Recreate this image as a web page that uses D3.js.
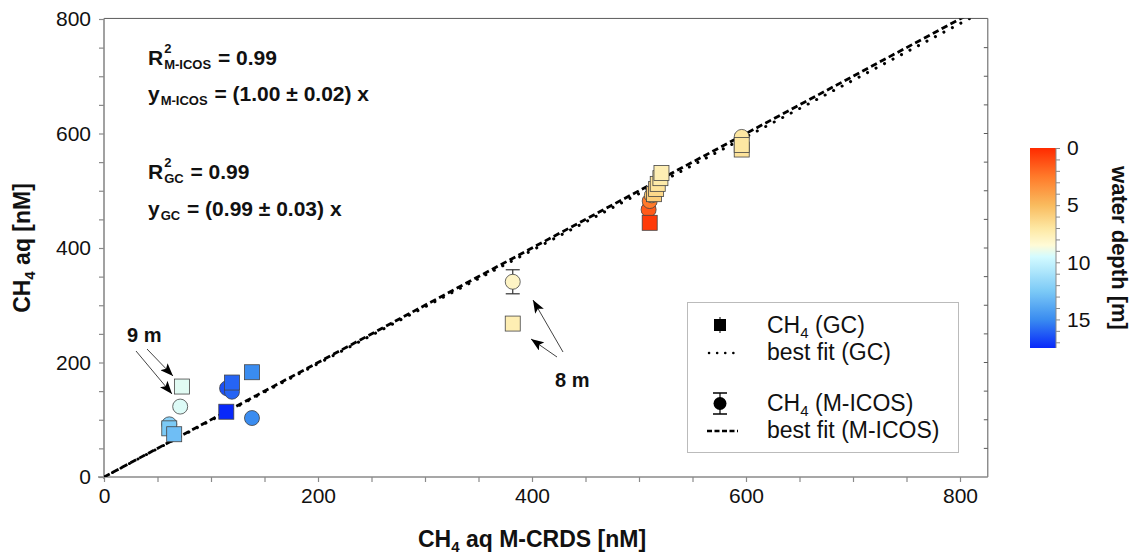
<!DOCTYPE html>
<html>
<head>
<meta charset="utf-8">
<script src="https://cdn.jsdelivr.net/npm/d3@7"></script>
<style>
  html, body { margin: 0; padding: 0; background: #fff; }
  svg { display: block; font-family: "Liberation Sans", Arial, sans-serif; }
</style>
</head>
<body>
<svg id="chart" width="1131" height="554"></svg>
<script>
// ---- data ----
// GC measurements (squares): M-CRDS value, GC value, water depth [m]
const gcX     = [72.8, 61, 65.6, 119.6, 114.3, 138.3, 382, 510, 514, 516, 517.5, 520, 521, 596, 596];
const gcY     = [158, 85, 74.7, 165, 114, 183, 268, 444, 494, 503, 512, 522, 531, 572, 580];
const gcDepth = [9.2, 12.5, 13, 16, 17.5, 15, 7.5, 0.5, 5.8, 6.3, 6.8, 7.2, 7.5, 6.8, 7];

// M-ICOS measurements (circles) with their uncertainty
const icX     = [71.2, 61, 115, 119.6, 138.3, 382, 509, 510, 512, 596];
const icY     = [123, 92, 155, 149, 103, 341, 467, 482, 492, 594];
const icErr   = [5, 5, 5, 5, 5, 21, 5, 5, 5, 5];
const icDepth = [9.3, 12, 16.5, 16, 15, 8, 1.5, 2.5, 5.5, 7];

// linear fits through the origin
const fitSlopeICOS = 1.00;
const fitSlopeGC = 0.99;

// axes
const xTicks = [0, 200, 400, 600, 800];
const yTicks = [0, 200, 400, 600, 800];
const depthTicks = [0, 5, 10, 15];

// colour ramp for water depth
const depthStops = [0, 2.5, 5, 7, 8.5, 9.5, 12.5, 15, 17.5];
const depthColors = ["#ff2a00", "#ff7a2a", "#f9bb5e", "#fde7a2", "#fffbd6", "#d4fbff", "#7ccaf6", "#3a8cf0", "#0828fa"];

// ---- layout ----
const svg = d3.select("#chart");
const x = d3.scaleLinear().domain([0, 800]).range([104, 960]);
const y = d3.scaleLinear().domain([0, 800]).range([477, 19]);
const xMax = 826, yMax = 801;
const color = d3.scaleLinear().domain(depthStops).range(depthColors).clamp(true);

const axisGrey = "#8a8a8a";
const frameGrey = "#5a5a5a";
const ink = "#111";

// arrowhead marker
const defs = svg.append("defs");
defs.append("marker").attr("id", "ah").attr("viewBox", "0 0 13 10")
  .attr("refX", 13).attr("refY", 5).attr("markerWidth", 13).attr("markerHeight", 10)
  .attr("markerUnits", "userSpaceOnUse").attr("orient", "auto")
  .append("path").attr("d", "M0,0 L13,5 L0,10 L3,5 Z").attr("fill", "#000");
defs.append("clipPath").attr("id", "plotClip").append("rect")
  .attr("x", x(0)).attr("y", y(yMax)).attr("width", x(xMax) - x(0)).attr("height", y(0) - y(yMax));

// frame (top and right)
svg.append("line").attr("x1", x(0)).attr("x2", x(xMax)).attr("y1", y(yMax)).attr("y2", y(yMax))
  .attr("stroke", frameGrey).attr("stroke-width", 1);
svg.append("line").attr("x1", x(xMax)).attr("x2", x(xMax)).attr("y1", y(yMax)).attr("y2", y(0))
  .attr("stroke", frameGrey).attr("stroke-width", 1);
svg.append("g").selectAll("line").data(d3.range(50, 800, 50)).join("line")
  .attr("x1", x(xMax)).attr("x2", x(xMax) - 4).attr("y1", d => y(d)).attr("y2", d => y(d))
  .attr("stroke", frameGrey).attr("stroke-width", 1);

// bottom axis
const xAxis = d3.axisBottom(x).tickValues(d3.range(0, 801, 50)).tickSize(5)
  .tickFormat(d => xTicks.includes(d) ? d : "");
const gx = svg.append("g").attr("transform", `translate(0,${y(0)})`).call(xAxis);
gx.select(".domain").remove();
gx.selectAll(".tick line").attr("stroke", axisGrey).attr("stroke-width", 1.2);
gx.selectAll(".tick text").attr("font-size", 21).attr("fill", ink).attr("dy", "0.85em")
  .attr("font-family", "Liberation Sans, Arial, sans-serif");
gx.append("line").attr("x1", x(0) - 6).attr("x2", x(xMax)).attr("y1", 0).attr("y2", 0)
  .attr("stroke", axisGrey).attr("stroke-width", 1.6);

// left axis
const yAxis = d3.axisLeft(y).tickValues(d3.range(0, 801, 50)).tickSize(5)
  .tickFormat(d => yTicks.includes(d) ? d : "");
const gy = svg.append("g").attr("transform", `translate(${x(0)},0)`).call(yAxis);
gy.select(".domain").remove();
gy.selectAll(".tick line").attr("stroke", axisGrey).attr("stroke-width", 1.2);
gy.selectAll(".tick text").attr("font-size", 21).attr("fill", ink).attr("x", -13)
  .attr("font-family", "Liberation Sans, Arial, sans-serif");
gy.append("line").attr("x1", 0).attr("x2", 0).attr("y1", y(yMax)).attr("y2", y(0) + 2)
  .attr("stroke", axisGrey).attr("stroke-width", 1.6);

// axis titles
const xt = svg.append("text").attr("x", x(400)).attr("y", 547).attr("text-anchor", "middle")
  .attr("font-size", 23).attr("font-weight", "bold").attr("fill", ink);
xt.append("tspan").text("CH");
xt.append("tspan").text("4").attr("font-size", 15).attr("dy", 5);
xt.append("tspan").text(" aq M-CRDS [nM]").attr("dy", -5);

const yt = svg.append("text").attr("transform", `translate(30,${y(400)}) rotate(-90)`)
  .attr("text-anchor", "middle").attr("font-size", 23).attr("font-weight", "bold").attr("fill", ink);
yt.append("tspan").text("CH");
yt.append("tspan").text("4").attr("font-size", 15).attr("dy", 5);
yt.append("tspan").text(" aq [nM]").attr("dy", -5);

// fit lines
const plot = svg.append("g").attr("clip-path", "url(#plotClip)");
const line = d3.line().x(d => x(d[0])).y(d => y(d[1]));
plot.append("path").datum([[0, 0], [xMax, fitSlopeGC * xMax]]).attr("d", line)
  .attr("fill", "none").attr("stroke", "#000").attr("stroke-width", 3)
  .attr("stroke-linecap", "round").attr("stroke-dasharray", "0.1 9.5");
plot.append("path").datum([[0, 0], [xMax, fitSlopeICOS * xMax]]).attr("d", line)
  .attr("fill", "none").attr("stroke", "#000").attr("stroke-width", 2.8)
  .attr("stroke-dasharray", "6.5 3.5");

// M-ICOS circles with error bars
const icData = icX.map((v, i) => ({ x: v, y: icY[i], e: icErr[i], d: icDepth[i] }));
const icG = svg.append("g");
const capW = 7;
icData.forEach(p => {
  const g = icG.append("g");
  g.append("line").attr("x1", x(p.x)).attr("x2", x(p.x)).attr("y1", y(p.y - p.e)).attr("y2", y(p.y + p.e))
    .attr("stroke", "#333").attr("stroke-width", 1.2);
  [p.y - p.e, p.y + p.e].forEach(v => g.append("line")
    .attr("x1", x(p.x) - capW).attr("x2", x(p.x) + capW).attr("y1", y(v)).attr("y2", y(v))
    .attr("stroke", "#333").attr("stroke-width", 1.2));
  g.append("circle").attr("cx", x(p.x)).attr("cy", y(p.y)).attr("r", 7.5)
    .attr("fill", color(p.d)).attr("stroke", "#444").attr("stroke-width", 0.8);
});

// GC squares
const sq = 15;
const gcData = gcX.map((v, i) => ({ x: v, y: gcY[i], d: gcDepth[i] }));
svg.append("g").selectAll("rect").data(gcData).join("rect")
  .attr("x", d => x(d.x) - sq / 2).attr("y", d => y(d.y) - sq / 2)
  .attr("width", sq).attr("height", sq)
  .attr("fill", d => color(d.d)).attr("stroke", "#444").attr("stroke-width", 0.8);

// depth annotations with arrows
function arrow(x1, y1, x2, y2) {
  svg.append("line").attr("x1", x1).attr("y1", y1).attr("x2", x2).attr("y2", y2)
    .attr("stroke", "#444").attr("stroke-width", 1).attr("marker-end", "url(#ah)");
}
svg.append("text").attr("x", 127).attr("y", 342).attr("font-size", 20).attr("font-weight", "bold")
  .attr("fill", ink).text("9 m");
arrow(147, 349, 173, 376);
arrow(136, 351, 172, 394);
svg.append("text").attr("x", 555).attr("y", 387).attr("font-size", 20).attr("font-weight", "bold")
  .attr("fill", ink).text("8 m");
arrow(563, 352, 533, 300);
arrow(557, 357, 531, 339);

// regression statistics: one text element per line, with stacked super/subscripts
function stat(x0, yb, main, sup, sub, rest) {
  const t = svg.append("text").attr("x", x0).attr("y", yb).attr("font-weight", "bold")
    .attr("fill", ink).attr("font-size", 21);
  const m = t.append("tspan").text(main);
  const wMain = m.node().getComputedTextLength();
  let wSup = 0;
  if (sup) {
    const s = t.append("tspan").attr("x", x0 + wMain + 1).attr("dy", -12).attr("font-size", 13).text(sup);
    wSup = s.node().getComputedTextLength();
  }
  const b = t.append("tspan").attr("x", x0 + wMain + 1).attr("dy", sup ? 16 : 4)
    .attr("font-size", 13).text(sub);
  const wSub = b.node().getComputedTextLength();
  t.append("tspan").attr("x", x0 + wMain + Math.max(wSup, wSub) + 2).attr("dy", -4).text(" = " + rest);
}
stat(148, 65, "R", "2", "M-ICOS", "0.99");
stat(148, 101, "y", null, "M-ICOS", "(1.00 ± 0.02) x");
stat(148, 179, "R", "2", "GC", "0.99");
stat(148, 216, "y", null, "GC", "(0.99 ± 0.03) x");

// legend
const lg = svg.append("g");
lg.append("rect").attr("x", 687.5).attr("y", 302.5).attr("width", 271).attr("height", 150)
  .attr("fill", "#fff").attr("stroke", "#bbb").attr("stroke-width", 1);
function legText(yb, parts) {
  const t = lg.append("text").attr("x", 767).attr("y", yb).attr("font-size", 23).attr("fill", ink);
  parts.forEach(([s, sub], i) => {
    const ts = t.append("tspan").text(s);
    if (sub) ts.attr("font-size", 15).attr("dy", 5);
    else if (i > 0) ts.attr("dy", -5);
  });
}
lg.append("rect").attr("x", 714).attr("y", 319).attr("width", 12).attr("height", 12).attr("fill", "#000");
lg.append("line").attr("x1", 720).attr("x2", 720).attr("y1", 317).attr("y2", 333).attr("stroke", "#000");
legText(333, [["CH"], ["4", true], [" (GC)"]]);
lg.append("line").attr("x1", 709).attr("x2", 740).attr("y1", 353).attr("y2", 353)
  .attr("stroke", "#000").attr("stroke-width", 2.5).attr("stroke-linecap", "round").attr("stroke-dasharray", "0.1 8");
legText(360, [["best fit (GC)"]]);
lg.append("line").attr("x1", 720).attr("x2", 720).attr("y1", 393).attr("y2", 414).attr("stroke", "#000").attr("stroke-width", 1.2);
lg.append("line").attr("x1", 713).attr("x2", 727).attr("y1", 393).attr("y2", 393).attr("stroke", "#000").attr("stroke-width", 1.5);
lg.append("line").attr("x1", 713).attr("x2", 727).attr("y1", 414).attr("y2", 414).attr("stroke", "#000").attr("stroke-width", 1.5);
lg.append("circle").attr("cx", 720).attr("cy", 403.5).attr("r", 6.5).attr("fill", "#000");
legText(411, [["CH"], ["4", true], [" (M-ICOS)"]]);
lg.append("line").attr("x1", 707).attr("x2", 738).attr("y1", 431).attr("y2", 431)
  .attr("stroke", "#000").attr("stroke-width", 2.5).attr("stroke-dasharray", "5 2.5");
legText(438, [["best fit (M-ICOS)"]]);

// colour bar for water depth
const cbX = 1030, cbW = 26;
const cbY = d3.scaleLinear().domain([0, 17.5]).range([148, 348]);
const grad = defs.append("linearGradient").attr("id", "depthGrad")
  .attr("x1", 0).attr("x2", 0).attr("y1", 0).attr("y2", 1);
d3.range(0, 17.51, 0.5).forEach(v => grad.append("stop")
  .attr("offset", v / 17.5).attr("stop-color", color(v)));
svg.append("rect").attr("x", cbX).attr("y", cbY(0)).attr("width", cbW).attr("height", cbY(17.5) - cbY(0))
  .attr("fill", "url(#depthGrad)");
const cAxis = d3.axisRight(cbY).tickValues(d3.range(0, 18, 1)).tickSize(4)
  .tickFormat(d => depthTicks.includes(d) ? d : "");
const gc = svg.append("g").attr("transform", `translate(${cbX + cbW},0)`).call(cAxis);
gc.select(".domain").attr("stroke", axisGrey).attr("d", `M0,${cbY(0)}V${cbY(17.5)}`);
gc.selectAll(".tick line").attr("stroke", axisGrey);
gc.selectAll(".tick text").attr("font-size", 21).attr("fill", ink).attr("x", 11)
  .attr("font-family", "Liberation Sans, Arial, sans-serif");
svg.append("text").attr("transform", `translate(1112,${cbY(8.75)}) rotate(90)`)
  .attr("text-anchor", "middle").attr("font-size", 22).attr("font-weight", "bold").attr("fill", ink)
  .text("water depth [m]");
</script>
</body>
</html>
